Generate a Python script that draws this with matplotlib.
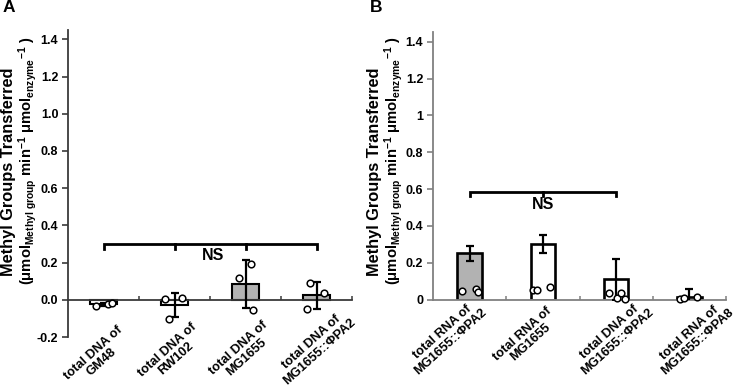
import matplotlib

matplotlib.use("Agg")

import matplotlib.pyplot as plt
import numpy as np

plt.rcParams["font.family"] = ["Liberation Sans", "DejaVu Sans"]
plt.rcParams["font.weight"] = "bold"
plt.rcParams["mathtext.fontset"] = "custom"
plt.rcParams["mathtext.rm"] = "Liberation Sans:bold"
plt.rcParams["mathtext.bf"] = "Liberation Sans:bold"
plt.rcParams["mathtext.it"] = "Liberation Sans:bold"

# ---- panel A data ----
A_labels = ["total DNA of\nGM48", "total DNA of\nRW102", "total DNA of\nMG1655", "total DNA of\nMG1655::ΦPA2"]
A_means = [-0.025, -0.030, 0.085, 0.025]
A_sds = [0.008, 0.065, 0.128, 0.072]
A_points = [
    [-0.035, -0.022, -0.018],
    [0.003, 0.010, -0.104],
    [0.115, 0.195, -0.056],
    [0.092, 0.035, -0.051],
]
A_yticks = [-0.2, 0.0, 0.2, 0.4, 0.6, 0.8, 1.0, 1.2, 1.4]
A_yticklabels = ["-0.2", "0.0", "0.2", "0.4", "0.6", "0.8", "1.0", "1.2", "1.4"]

# ---- panel B data ----
B_labels = ["total RNA of\nMG1655::ΦPA2", "total RNA of\nMG1655", "total DNA of\nMG1655::ΦPA2", "total RNA of\nMG1655::ΦPA8"]
B_means = [0.250, 0.300, 0.110, 0.012]
B_sds = [0.043, 0.050, 0.110, 0.045]
B_points = [
    [0.048, 0.059, 0.039],
    [0.052, 0.052, 0.068],
    [0.037, 0.008, 0.034, 0.002],
    [0.001, 0.006, 0.012],
]
B_yticks = [0, 0.2, 0.4, 0.6, 0.8, 1.0, 1.2, 1.4]
B_yticklabels = ["0", "0.2", "0.4", "0.6", "0.8", "1", "1.2", "1.4"]

# ---- layout / style ----
GRAY = "#b2b2b2"
A_fills = ["white", "white", GRAY, GRAY]
B_fills = [GRAY, "white", "white", "white"]
A_jitter = [[-0.10, 0.06, 0.12], [-0.14, 0.10, -0.08], [-0.09, 0.08, 0.10], [-0.09, 0.10, -0.135]]
B_jitter = [[-0.10, 0.09, 0.12], [-0.13, -0.08, 0.10], [-0.10, 0.01, 0.07, 0.12], [-0.13, -0.07, 0.10]]
# anchor (top-centre) of each rotated category label, in data units
A_label_xy = [(-0.20, -0.262), (0.85, -0.245), (1.85, -0.236), (2.87, -0.206)]
B_label_xy = [(-0.43, -0.155), (0.66, -0.162), (1.855, -0.155), (2.95, -0.158)]

W, H = 735, 390


def draw_panel(ax, means, sds, fills, points, jitter, spine_color, bar_lw, bar_w):
    x = np.arange(len(means))
    ax.bar(x, means, width=bar_w, color=fills, edgecolor="black", linewidth=bar_lw, zorder=2)
    ax.errorbar(x, means, yerr=sds, fmt="none", ecolor="black", elinewidth=1.6,
                capsize=2.6, capthick=1.6, zorder=3)
    for i, (vals, jit) in enumerate(zip(points, jitter)):
        ax.plot(i + np.array(jit), vals, "o", mfc="white", mec="black", ms=4.8, mew=1.1,
                zorder=4, clip_on=False)

    ax.set_xlim(-0.5, len(means) - 0.5)
    for side in ("top", "right"):
        ax.spines[side].set_visible(False)
    for side in ("left", "bottom"):
        ax.spines[side].set_color(spine_color)
        ax.spines[side].set_linewidth(1.3)
    ax.spines["bottom"].set_position(("data", 0))
    ax.set_xticks([])
    ax.set_xticks(np.arange(len(means)) + 0.5, minor=True)
    ax.tick_params(axis="x", which="minor", direction="in", length=3, width=1.1, color=spine_color)
    ax.tick_params(axis="y", direction="out", length=4, width=1.2, color=spine_color,
                   labelsize=9, labelcolor="black", pad=3)


def bracket(ax, x0, x1, mids, y, drop):
    ax.plot([x0, x0, x1, x1], [y - drop, y, y, y - drop], color="black", lw=2, zorder=3,
            solid_joinstyle="miter")
    for m in mids:
        ax.plot([m, m], [y, y - drop], color="black", lw=2, zorder=3)


def xlabels(ax, labels, anchors):
    for lab, (xx, yy) in zip(labels, anchors):
        ax.text(xx, yy, lab, rotation=42, rotation_mode="anchor", ha="center", va="top",
                multialignment="center", fontsize=9.3, fontweight="bold", linespacing=1.0,
                clip_on=False)


fig = plt.figure(figsize=(W / 100, H / 100), dpi=100)
axA = fig.add_axes([68 / W, (H - 337) / H, 284 / W, 307 / H])
axB = fig.add_axes([433 / W, (H - 299.5) / H, 293 / W, 267.8 / H])

draw_panel(axA, A_means, A_sds, A_fills, A_points, A_jitter, "#3a3a3a", 1.5, 0.39)
axA.set_ylim(-0.2, 1.45)
axA.set_yticks(A_yticks)
axA.set_yticklabels(A_yticklabels, fontweight="bold")
bracket(axA, 0, 3, [1, 2], 0.30, 0.026)
axA.text(1.546, 0.238, "NS", ha="center", va="center", fontsize=11.5, fontweight="bold")
xlabels(axA, A_labels, A_label_xy)

draw_panel(axB, B_means, B_sds, B_fills, B_points, B_jitter, "#808080", 1.9, 0.335)
axB.set_ylim(0, 1.455)
axB.set_yticks(B_yticks)
axB.set_yticklabels(B_yticklabels, fontweight="bold")
bracket(axB, 0, 2, [1], 0.586, 0.022)
axB.text(1.006, 0.517, "NS", ha="center", va="center", fontsize=11.5, fontweight="bold")
xlabels(axB, B_labels, B_label_xy)

unit_label = (r"(μmol$_{\mathbf{Methyl\ group}}$ min$^{\mathbf{-1}}$ "
              r"μmol$_{\mathbf{enzyme}}{}^{\mathbf{-1}}$ )")
for x1, x2 in ((8.5, 28), (374.5, 394)):
    fig.text(x1 / W, 1 - 172 / H, "Methyl Groups Transferred", rotation=90, ha="center",
             va="center", fontsize=11.8, fontweight="bold")
    fig.text(x2 / W, 1 - 161 / H, unit_label, rotation=90, ha="center", va="center",
             fontsize=10.6, fontweight="bold")

fig.text(9 / W, 1 - 8 / H, "A", ha="center", va="center", fontsize=12.5, fontweight="bold")
fig.text(376 / W, 1 - 8 / H, "B", ha="center", va="center", fontsize=12.5, fontweight="bold")

fig.savefig("out.png", dpi=100)
